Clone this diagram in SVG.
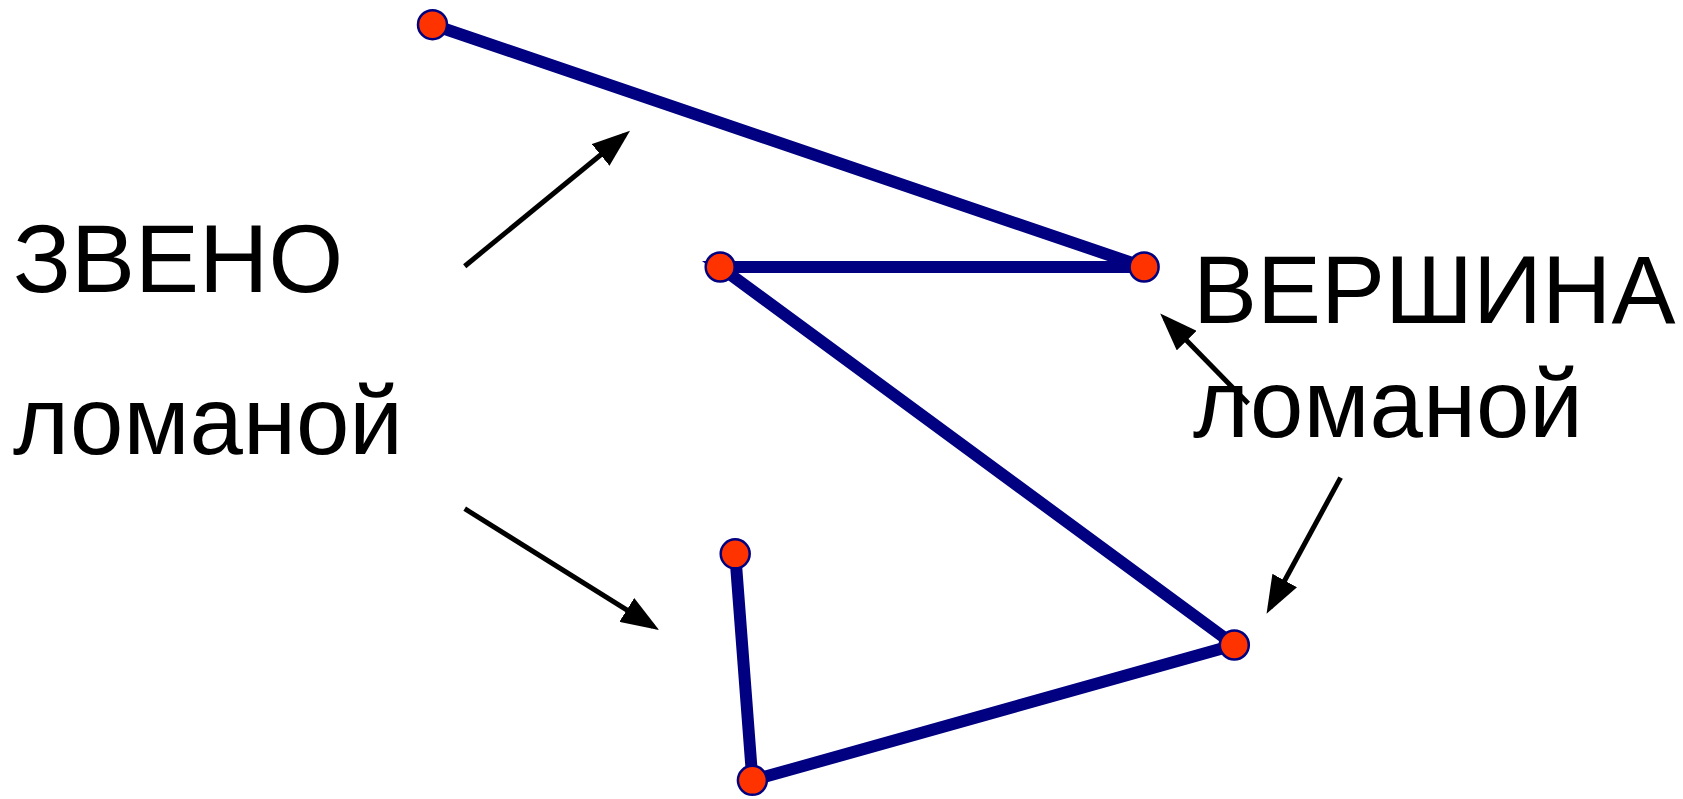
<svg xmlns="http://www.w3.org/2000/svg" width="1683" height="799" viewBox="0 0 1683 799">
<style>
.lbl{font-family:"Liberation Sans",Arial,sans-serif;font-size:96px;fill:#000}
.seg{fill:none;stroke:#000080;stroke-width:12}
.pt{fill:#FF3300;stroke:#000080;stroke-width:2.5}
.arr{stroke:#000;stroke-width:5;fill:none;marker-end:url(#ah)}
</style>
<defs>
<marker id="ah" markerUnits="userSpaceOnUse" markerWidth="38" markerHeight="28" refX="31" refY="14" orient="auto" viewBox="0 0 38 28">
<path d="M0,0 L38,14 L0,28 z" fill="#000"/>
</marker>
</defs>
<rect width="1683" height="799" fill="#fff"/>
<g id="polyline">
<polyline class="seg" points="432.5,24.7 1144.1,267 720.2,267 1234.3,645 752.4,780.3 735.2,553.8"/>
</g>
<g id="connectors">
<line class="arr" x1="464.7" y1="266.2" x2="624.6" y2="135.3"/>
<line class="arr" x1="464.7" y1="508.7" x2="653.1" y2="626.3"/>
<line class="arr" x1="1248.2" y1="403.6" x2="1165.1" y2="318.4"/>
<line class="arr" x1="1340.6" y1="477.6" x2="1269.9" y2="607.7"/>
</g>
<g id="v1"><circle class="pt" cx="432.5" cy="24.7" r="14.5"/></g>
<g id="v2"><circle class="pt" cx="1144.1" cy="267" r="14.5"/></g>
<g id="v3"><circle class="pt" cx="720.2" cy="267" r="14.5"/></g>
<g id="v4"><circle class="pt" cx="1234.3" cy="645" r="14.5"/></g>
<g id="v5"><circle class="pt" cx="752.4" cy="780.3" r="14.5"/></g>
<g id="v6"><circle class="pt" cx="735.2" cy="553.8" r="14.5"/></g>
<g id="label-zveno">
<text class="lbl" x="13" y="291.5">ЗВЕНО</text>
<text class="lbl" x="13" y="454">ломаной</text>
</g>
<g id="label-vershina">
<text class="lbl" x="1193" y="322.7">ВЕРШИНА</text>
<text class="lbl" x="1193" y="436.7">ломаной</text>
</g>
</svg>
